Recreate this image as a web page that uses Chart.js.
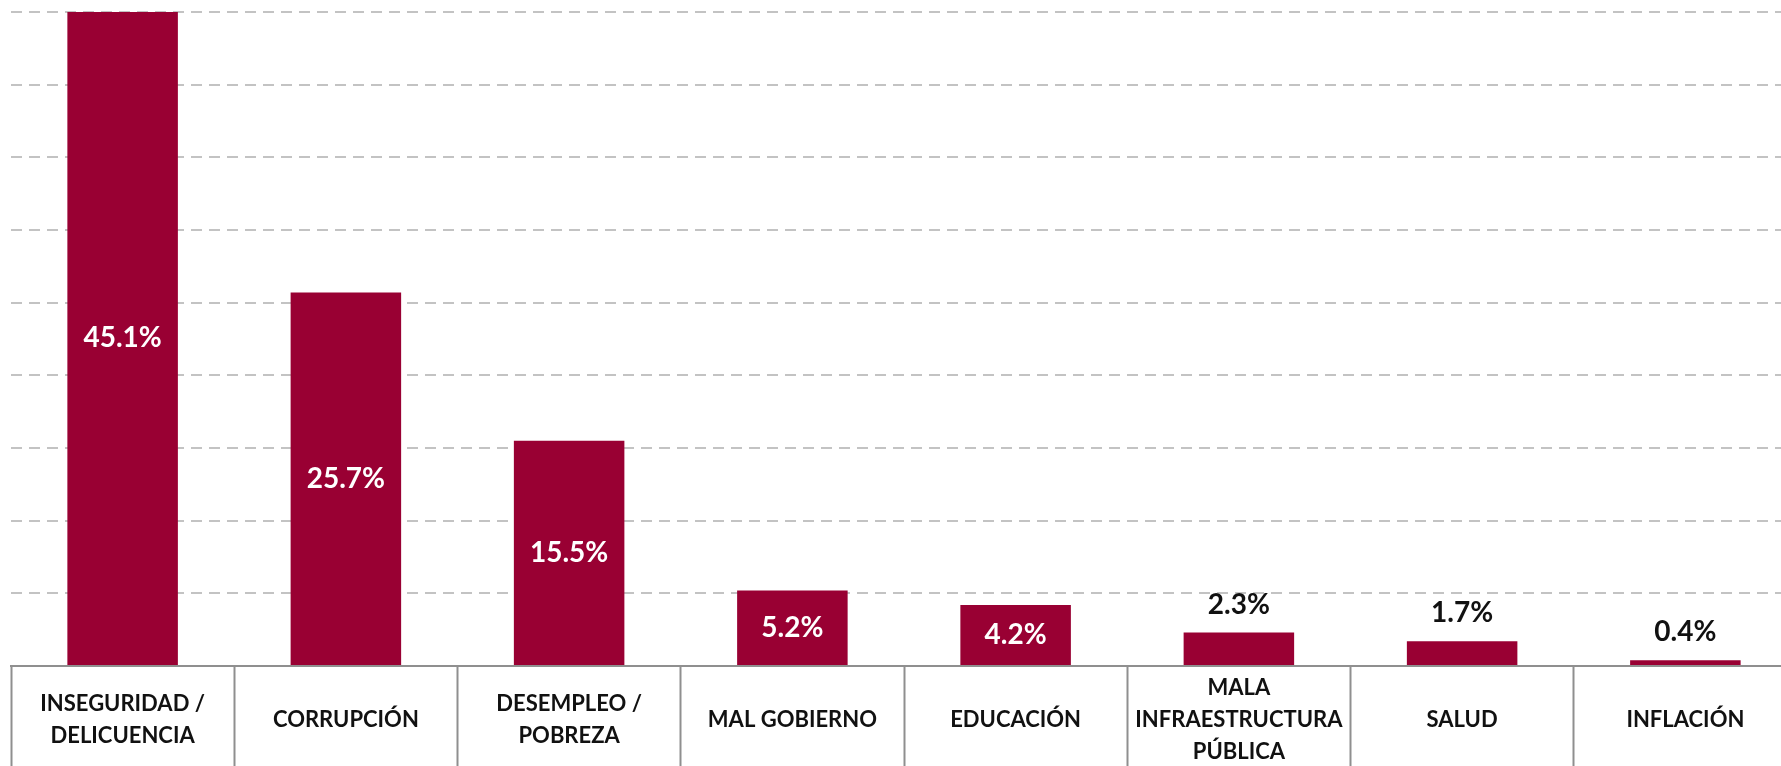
<!DOCTYPE html>
<html>
<head>
<meta charset="utf-8">
<script src="https://cdn.jsdelivr.net/npm/chart.js@4"></script>
<style>
  html, body { margin: 0; padding: 0; background: #fff; overflow: hidden; }
  .wrapper { width: 1797px; height: 775px; position: relative; }
</style>
</head>
<body>
<div class="wrapper"><canvas id="myChart"></canvas></div>
<script>
// Datos del gráfico
const categories = [
  ["INSEGURIDAD /", "DELICUENCIA"],
  "CORRUPCIÓN",
  ["DESEMPLEO /", "POBREZA"],
  "MAL GOBIERNO",
  "EDUCACIÓN",
  ["MALA", "INFRAESTRUCTURA", "PÚBLICA"],
  "SALUD",
  "INFLACIÓN",
];
const values = [45.1, 25.7, 15.5, 5.2, 4.2, 2.3, 1.7, 0.4];
const yTicks = [0, 5, 10, 15, 20, 25, 30, 35, 40, 45];

const barColor = "#990033";
const fontFamily = "Lato, 'Open Sans', sans-serif";

// Etiquetas de valor (dentro o encima de la barra)
const valueLabels = {
  id: "valueLabels",
  afterDatasetsDraw(chart) {
    const ctx = chart.ctx;
    const meta = chart.getDatasetMeta(0);
    ctx.save();
    ctx.font = "bold 28px " + fontFamily;
    ctx.textAlign = "center";
    meta.data.forEach(function (bar, i) {
      const v = values[i];
      const text = v.toFixed(1) + "%";
      if (v >= 4) {
        ctx.fillStyle = "#ffffff";
        ctx.textBaseline = "middle";
        ctx.fillText(text, bar.x, (bar.y + bar.base) / 2);
      } else {
        ctx.fillStyle = "#111111";
        ctx.textBaseline = "alphabetic";
        ctx.fillText(text, bar.x, bar.y - 19);
      }
    });
    ctx.restore();
  },
};

const ctx = document.getElementById("myChart");

new Chart(ctx, {
  type: "bar",
  data: {
    labels: categories,
    datasets: [
      {
        data: values,
        backgroundColor: barColor,
        borderWidth: 0,
        barPercentage: 0.495,
        categoryPercentage: 1,
      },
    ],
  },
  options: {
    responsive: true,
    maintainAspectRatio: false,
    animation: false,
    layout: { padding: { left: 11, top: 12, right: 0, bottom: 0 } },
    plugins: {
      legend: { display: false },
      tooltip: { enabled: false },
    },
    scales: {
      x: {
        grid: {
          offset: true,
          drawOnChartArea: false,
          drawTicks: true,
          tickLength: 110,
          tickWidth: 2,
          tickColor: "#8f8f8f",
        },
        border: { display: true, color: "#8f8f8f", width: 2 },
        ticks: {
          color: "#111111",
          padding: -88,
          crossAlign: "center",
          maxRotation: 0,
          autoSkip: false,
          font: { family: fontFamily, size: 22, weight: "bold", lineHeight: 1.45 },
        },
        afterFit: function (scale) {
          scale.height = 109;
        },
      },
      y: {
        min: 0,
        max: 45,
        afterBuildTicks: function (scale) {
          scale.ticks = yTicks.map(function (v) { return { value: v }; });
        },
        grid: {
          drawTicks: false,
          lineWidth: 2,
          color: function (c) {
            return c.tick && c.tick.value === 0 ? "rgba(0,0,0,0)" : "#c3c3c3";
          },
        },
        border: { display: false, dash: [11, 7] },
        ticks: { display: false },
        afterFit: function (scale) {
          scale.width = 0;
        },
      },
    },
  },
  plugins: [valueLabels],
});
</script>
</body>
</html>
